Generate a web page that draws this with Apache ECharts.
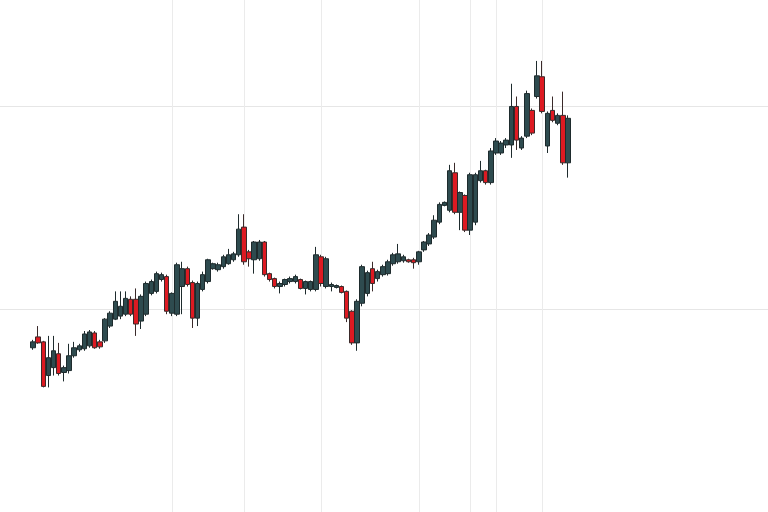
<!DOCTYPE html>
<html>
<head>
<meta charset="utf-8">
<style>
  html, body { margin: 0; padding: 0; background: #ffffff; }
  #chart { width: 768px; height: 512px; }
</style>
<script src="https://cdn.jsdelivr.net/npm/echarts@6/dist/echarts.min.js"></script>
</head>
<body>
<div id="chart"></div>
<script>
// OHLC values: [open, close, low, high]
const ohlc = [
  [36.20, 36.78, 36.00, 36.98],
  [37.27, 36.68, 36.59, 38.34],
  [36.78, 32.39, 32.29, 36.88],
  [33.46, 35.22, 32.29, 37.37],
  [34.24, 35.90, 33.46, 37.37],
  [35.61, 33.66, 33.46, 36.68],
  [33.76, 34.24, 32.88, 34.44],
  [33.95, 35.41, 33.66, 36.59],
  [35.41, 36.20, 35.22, 36.78],
  [36.00, 36.39, 35.80, 36.59],
  [36.10, 37.56, 35.90, 37.85],
  [36.39, 37.76, 36.20, 37.95],
  [37.66, 36.20, 36.10, 37.85],
  [36.78, 36.29, 36.10, 36.98],
  [36.88, 39.02, 36.68, 39.12],
  [38.34, 39.61, 38.15, 39.80],
  [39.02, 40.78, 38.93, 41.76],
  [39.32, 40.29, 39.02, 41.76],
  [39.51, 41.07, 39.32, 41.76],
  [40.98, 39.51, 39.32, 41.27],
  [40.98, 38.54, 37.37, 42.05],
  [38.83, 41.27, 38.05, 41.46],
  [39.51, 42.54, 39.32, 42.73],
  [41.56, 42.73, 41.37, 42.93],
  [41.76, 43.51, 41.56, 43.71],
  [42.93, 43.41, 42.73, 43.61],
  [43.22, 39.80, 39.51, 43.41],
  [39.61, 41.56, 39.32, 41.66],
  [39.51, 44.39, 39.32, 44.59],
  [42.24, 44.00, 39.51, 44.68],
  [44.00, 42.44, 42.24, 44.20],
  [42.63, 39.12, 38.15, 42.83],
  [39.12, 42.54, 38.34, 42.73],
  [41.95, 43.41, 41.76, 43.71],
  [42.73, 44.88, 42.54, 44.98],
  [44.00, 44.49, 43.90, 44.59],
  [43.90, 44.39, 43.71, 44.59],
  [44.20, 45.17, 44.00, 45.37],
  [44.49, 45.37, 44.39, 45.95],
  [44.88, 45.46, 44.68, 45.66],
  [45.37, 47.90, 45.17, 49.37],
  [48.10, 44.68, 44.39, 49.37],
  [45.66, 44.98, 44.20, 45.85],
  [44.88, 46.63, 43.51, 46.73],
  [44.98, 46.63, 44.78, 46.83],
  [46.63, 43.41, 43.22, 46.73],
  [43.51, 42.93, 42.73, 43.61],
  [43.02, 42.24, 42.05, 43.12],
  [42.24, 42.54, 41.56, 42.73],
  [42.44, 42.93, 42.24, 43.02],
  [42.73, 43.02, 42.54, 43.22],
  [42.73, 43.22, 42.54, 43.41],
  [42.93, 42.05, 41.95, 43.02],
  [42.05, 42.73, 41.46, 42.83],
  [41.95, 42.73, 41.76, 42.83],
  [41.95, 45.37, 41.76, 46.15],
  [45.17, 42.54, 42.24, 45.37],
  [42.24, 44.98, 42.05, 45.17],
  [42.24, 42.44, 41.76, 42.63],
  [42.15, 42.34, 42.05, 42.44],
  [42.24, 41.66, 41.56, 42.34],
  [41.76, 39.12, 38.73, 41.85],
  [39.80, 36.68, 36.49, 39.90],
  [36.68, 40.78, 35.90, 40.98],
  [40.59, 44.20, 40.29, 44.39],
  [41.56, 43.61, 41.27, 43.80],
  [44.00, 42.54, 41.76, 44.68],
  [43.02, 43.71, 42.73, 43.90],
  [43.41, 44.20, 43.22, 44.39],
  [43.51, 44.68, 43.32, 44.88],
  [44.49, 45.37, 44.29, 45.56],
  [44.68, 45.46, 44.49, 46.44],
  [44.78, 45.17, 44.59, 45.37],
  [44.88, 44.68, 44.59, 44.98],
  [44.88, 44.59, 44.00, 45.07],
  [44.68, 45.66, 44.39, 45.76],
  [45.85, 46.63, 45.66, 46.73],
  [46.44, 47.32, 46.24, 47.51],
  [47.12, 48.78, 46.93, 49.27],
  [48.59, 50.34, 48.39, 50.54],
  [50.24, 50.54, 50.15, 50.63],
  [49.76, 53.66, 49.56, 54.24],
  [53.46, 49.56, 49.37, 54.44],
  [49.56, 51.51, 47.80, 51.61],
  [51.22, 47.80, 47.61, 51.32],
  [47.80, 53.27, 47.32, 53.46],
  [48.59, 53.27, 48.29, 53.46],
  [52.68, 53.66, 52.49, 54.63],
  [53.66, 52.49, 52.29, 53.76],
  [52.49, 55.61, 52.29, 55.90],
  [55.41, 56.59, 55.22, 56.88],
  [55.41, 56.39, 55.22, 56.59],
  [56.20, 56.68, 55.90, 56.88],
  [56.20, 60.00, 54.93, 62.24],
  [60.00, 56.68, 55.71, 60.98],
  [55.90, 56.88, 55.71, 57.07],
  [57.07, 61.27, 56.88, 61.56],
  [59.61, 57.37, 57.17, 59.80],
  [60.98, 63.02, 60.78, 64.49],
  [62.93, 59.51, 59.32, 64.49],
  [56.10, 59.32, 55.41, 59.51],
  [59.61, 58.63, 58.44, 60.98],
  [58.34, 59.12, 58.15, 59.32],
  [59.12, 54.44, 54.24, 61.46],
  [54.44, 58.83, 52.98, 59.12]
];

// Session labels (no axis labels are shown in the reference)
const categories = ohlc.map((_, i) => 'S' + (i + 1));

// Faint gridline positions (price levels and session labels)
const priceGridLevels = [40, 60];
const sessionGridMarks = ['S28', 'S42', 'S57', 'S76', 'S86', 'S91', 'S100'];

const chart = echarts.init(document.getElementById('chart'), null, { renderer: 'canvas' });

const option = {
  backgroundColor: '#ffffff',
  animation: false,
  grid: [
    { left: 30.4, width: 540.1, top: 0, height: 518, containLabel: false },
    { left: 0, right: 0, top: 0, height: 518, containLabel: false }
  ],
  xAxis: [
    {
      type: 'category', gridIndex: 0, data: categories, boundaryGap: true,
      axisLine: { show: false }, axisTick: { show: false }, axisLabel: { show: false },
      splitLine: { show: false }
    },
    {
      type: 'value', gridIndex: 1, min: 0, max: 1,
      axisLine: { show: false }, axisTick: { show: false }, axisLabel: { show: false },
      splitLine: { show: false }
    }
  ],
  yAxis: [
    {
      type: 'value', gridIndex: 0, min: 20, max: 70.5,
      axisLine: { show: false }, axisTick: { show: false }, axisLabel: { show: false },
      splitLine: { show: false }
    },
    {
      type: 'value', gridIndex: 1, min: 20, max: 70.5,
      axisLine: { show: false }, axisTick: { show: false }, axisLabel: { show: false },
      splitLine: { show: false }
    }
  ],
  series: [
    {
      type: 'line',
      xAxisIndex: 1, yAxisIndex: 1,
      data: [],
      silent: true,
      markLine: {
        silent: true, symbol: 'none', label: { show: false },
        lineStyle: { color: '#e6e6e6', width: 1, type: 'solid' },
        data: priceGridLevels.map(v => ({ yAxis: v }))
      }
    },
    {
      type: 'candlestick',
      xAxisIndex: 0, yAxisIndex: 0,
      data: ohlc,
      barWidth: 5,
      itemStyle: {
        color: '#2e4b4f',
        color0: '#dd1a22',
        borderColor: '#1e2b2d',
        borderColor0: '#3a2a2a',
        borderWidth: 1
      },
      markLine: {
        silent: true, symbol: 'none', label: { show: false },
        lineStyle: { color: '#ebebeb', width: 1, type: 'solid' },
        data: sessionGridMarks.map(c => ({ xAxis: c }))
      },
      z: 5
    }
  ]
};

chart.setOption(option);
</script>
</body>
</html>
